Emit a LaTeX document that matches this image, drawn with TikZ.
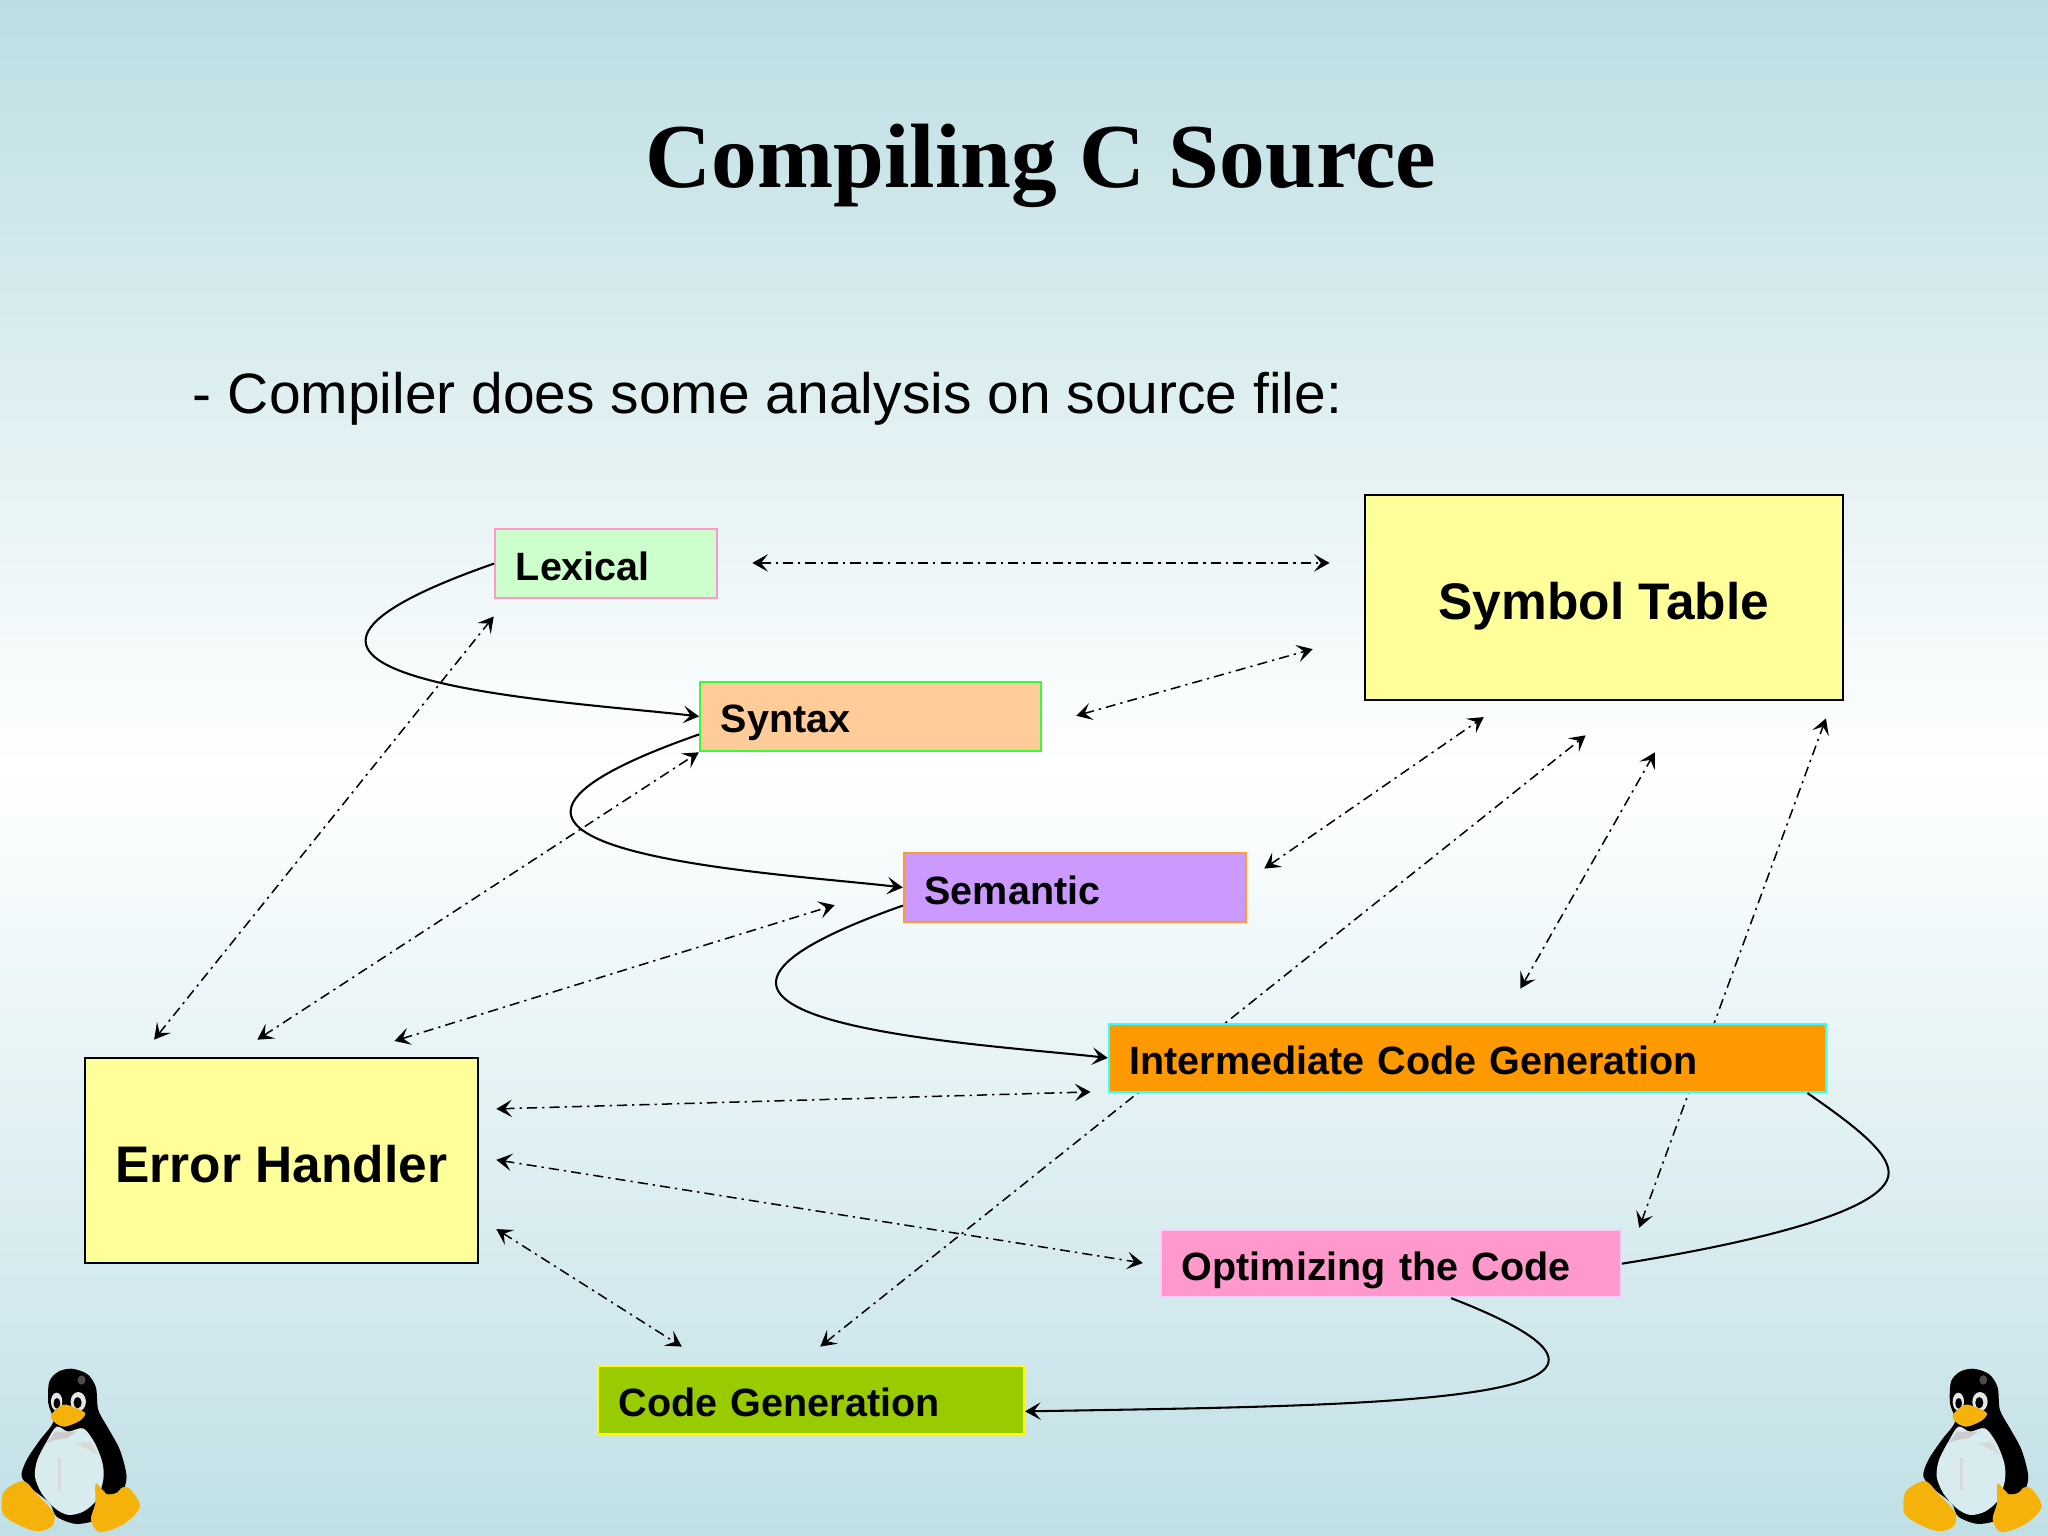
\documentclass[tikz,border=0pt]{standalone}
\usepackage{fontspec}
\setmainfont{Liberation Sans}
\newfontfamily\titlefont{Liberation Serif}
\usetikzlibrary{arrows.meta}
\definecolor{bgtop}{RGB}{188, 222, 227}
\definecolor{bgbottom}{RGB}{192, 224, 230}
\definecolor{lexfill}{RGB}{204, 255, 204}
\definecolor{lexline}{RGB}{255, 153, 204}
\definecolor{synfill}{RGB}{255, 204, 153}
\definecolor{synline}{RGB}{51, 255, 51}
\definecolor{semfill}{RGB}{204, 153, 255}
\definecolor{semline}{RGB}{255, 153, 51}
\definecolor{intfill}{RGB}{255, 153, 0}
\definecolor{intline}{RGB}{51, 255, 255}
\definecolor{optfill}{RGB}{255, 153, 204}
\definecolor{optline}{RGB}{255, 204, 255}
\definecolor{genfill}{RGB}{153, 204, 0}
\definecolor{genline}{RGB}{255, 255, 0}
\definecolor{tablefill}{RGB}{255, 255, 153}
\definecolor{tuxgold}{RGB}{245, 178, 10}
\definecolor{tuxbelly}{RGB}{216, 236, 240}
\tikzset{
  stagebox/.style={draw, line width=0.5pt, align=left, inner xsep=4.5pt, inner ysep=0pt,
    minimum height=0.53cm, text height=8.2pt, text depth=1pt,
    font=\fontsize{8.6}{10}\selectfont\bfseries},
  tablebox/.style={draw=black, line width=0.5pt, fill=tablefill, minimum height=1.57cm,
    text height=11.1pt, text depth=1.6pt, font=\fontsize{11.2}{13}\selectfont\bfseries},
  curve/.style={line width=0.45pt},
  flow/.style={curve, -{Stealth[length=3.4pt,width=3.8pt,inset=1.5pt]}},
  duplex/.style={line width=0.33pt, dash pattern=on 2.2pt off 1.1pt on 0.5pt off 1.1pt,
    {Stealth[length=3.4pt,width=3.8pt,inset=1.5pt]}-{Stealth[length=3.4pt,width=3.8pt,inset=1.5pt]}},
  tux/.pic={
    \fill[black] plot[smooth cycle] coordinates {(215,206) (262,222) (288,262) (295,330) (325,385)
      (360,450) (380,530) (365,580) (330,600) (300,655) (230,672) (170,650) (150,610) (100,570)
      (65,530) (80,480) (120,420) (160,365) (145,310) (148,245) (175,215)};
    \fill[tuxbelly] plot[smooth cycle] coordinates {(170,380) (205,395) (250,385) (285,430) (308,490)
      (310,540) (290,600) (250,635) (205,645) (165,625) (125,580) (105,530) (112,480) (140,425)};
    \fill[black!20] (140,430) -- (165,395) -- (230,395) -- (200,415) -- (165,420) -- cycle;
    \fill[black!15] (230,430) -- (270,425) -- (295,465) -- cycle;
    \fill[black!15] (175,475) rectangle (183,570);
    \fill[white!90!black] (170,305) ellipse [x radius=17, y radius=27];
    \fill[white!90!black] (235,305) ellipse [x radius=23, y radius=29];
    \fill[black] (171,310) ellipse [x radius=10, y radius=16];
    \fill[black] (233,308) ellipse [x radius=12, y radius=17];
    \fill[tuxgold] plot[smooth cycle] coordinates {(153,345) (190,314) (230,325) (256,340)
      (240,362) (195,380) (165,368)};
    \fill[tuxgold] plot[smooth cycle] coordinates {(12,575) (70,543) (112,585) (162,640) (155,680)
      (110,694) (50,672) (8,640)};
    \fill[tuxgold] plot[smooth cycle] coordinates {(288,550) (320,578) (382,562) (420,620) (372,672)
      (300,697) (273,660) (286,610)};
    \fill[black] plot[smooth cycle] coordinates {(312,560) (340,537) (370,550) (350,578) (320,582)};
    \fill[black!70] (245,240) ellipse [x radius=12, y radius=14];
  }
}

\begin{document}
\begin{tikzpicture}[x=0.01cm,y=-0.01cm]
\useasboundingbox (0,0) rectangle (1568,1176);
\shade[top color=bgtop, bottom color=bgbottom, middle color=white] (0,0) rectangle (1568,1176);

% Heading
\node (title) at (797,127) {\titlefont\fontsize{19.9}{24}\selectfont\bfseries Compiling C Source};
\node[right, inner sep=0pt, font=\fontsize{12.4}{15}\selectfont] (intro) at (147,305.5)
  {-\hspace{3.5pt}Compiler does some analysis on source file:};

% Free ends of the two-way arrows
\coordinate (lexA) at (576,431);
\coordinate (lexB) at (378,472);
\coordinate (synA) at (824,548);
\coordinate (synB) at (535,576);
\coordinate (semA) at (968,665);
\coordinate (semB) at (639,693);
\coordinate (intA) at (1164,757);
\coordinate (intB) at (835,836);
\coordinate (optA) at (1255,940);
\coordinate (optB) at (875,967);
\coordinate (genA) at (628,1031);
\coordinate (genB) at (522,1031);
\coordinate (symA) at (1018,431);
\coordinate (symB) at (1005,497);
\coordinate (symC) at (1136,549);
\coordinate (symD) at (1214,563);
\coordinate (symE) at (1267,576);
\coordinate (symF) at (1398,550);
\coordinate (errA) at (118,796);
\coordinate (errB) at (197,796);
\coordinate (errC) at (302,797);
\coordinate (errD) at (380,849);
\coordinate (errE) at (380,888);
\coordinate (errF) at (380,941);

% Arrows to the symbol table
\draw[duplex] (lexA) -- (symA);
\draw[duplex] (synA) -- (symB);
\draw[duplex] (semA) -- (symC);
\draw[duplex] (genA) -- (symD);
\draw[duplex] (intA) -- (symE);
\draw[duplex] (optA) -- (symF);

% Arrows to the error handler
\draw[duplex] (errA) -- (lexB);
\draw[duplex] (errB) -- (synB);
\draw[duplex] (errC) -- (semB);
\draw[duplex] (errD) -- (intB);
\draw[duplex] (errE) -- (optB);
\draw[duplex] (errF) -- (genB);

% Compiler stages
\node[stagebox, draw=lexline, fill=lexfill, text width=1.38cm] (lexical) at (464,431.5) {Lexical};
\node[stagebox, draw=synline, fill=synfill, text width=2.29cm] (syntax) at (666.5,548.5) {Syntax};
\node[stagebox, draw=semline, fill=semfill, text width=2.30cm] (semantic) at (823,679.5) {Semantic};
\node[stagebox, draw=intline, fill=intfill, text width=5.17cm, minimum height=0.52cm] (inter) at (1123.5,810) {Intermediate Code Generation};
\node[stagebox, draw=optline, fill=optfill, text width=3.20cm, minimum height=0.51cm] (optimize) at (1065,967.5) {Optimizing the Code};
\node[stagebox, draw=genline, fill=genfill, text width=2.94cm, minimum height=0.52cm] (codegen) at (621,1072) {Code Generation};

% Tables
\node[tablebox, minimum width=3.66cm] (symbol) at (1228,457.5) {Symbol Table};
\node[tablebox, minimum width=3.01cm] (error) at (215.5,888.5) {Error Handler};

% Flow between the stages
\draw[flow] (lexical.west) .. controls (122,521) and (437,537) .. (syntax.west);
\draw[flow] (syntax.186) .. controls (279,652) and (594,668) .. (semantic.west);
\draw[flow] (semantic.186) .. controls (437,783) and (752,799) .. (inter.west);
\draw[curve] ([xshift=-0.15cm]inter.south east) .. controls (1420,862) and (1446,882) .. (1446,898)
  .. controls (1446,930) and (1320,955) .. (optimize.east);
\draw[flow] ([xshift=0.46cm]optimize.south) .. controls (1320,1075) and (1051,1076) .. (codegen.-3);

% Penguins
\pic[scale=0.255] (tuxleft) at (0,995.4) {tux};
\pic[scale=0.255] (tuxright) at (1456,995.4) {tux};
\end{tikzpicture}
\end{document}
